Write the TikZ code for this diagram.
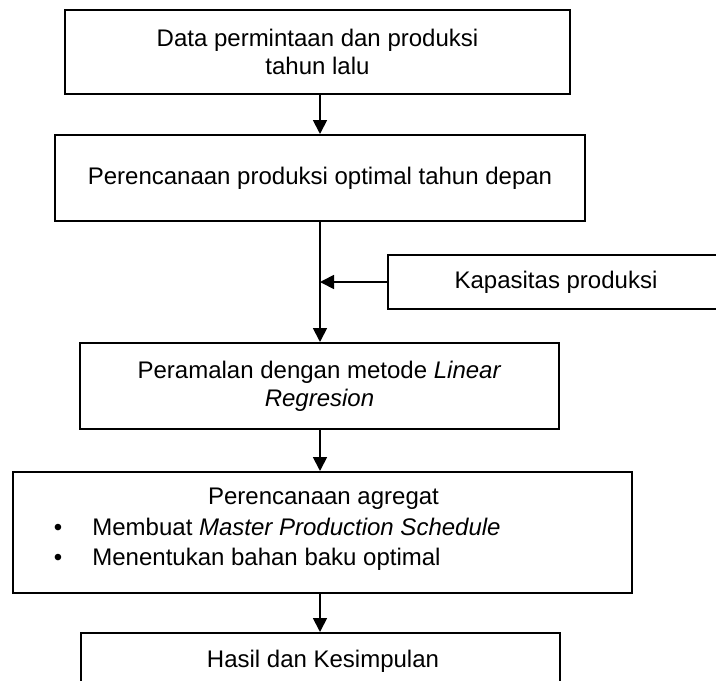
\documentclass[tikz,border=0pt]{standalone}
\usepackage{fontspec}
\setmainfont{Liberation Sans}
\usetikzlibrary{arrows.meta}
\begin{document}
\begin{tikzpicture}[x=0.5pt, y=-0.5pt,
  box/.style={draw=black, line width=1pt, fill=white, align=center, inner sep=0pt, font=\fontsize{12pt}{13.8pt}\selectfont},
  txt/.style={inner sep=0pt, font=\fontsize{12pt}{13.8pt}\selectfont},
  arr/.style={-{Triangle[length=7pt,width=7pt]}, line width=0.9pt}]
\useasboundingbox (0,0) rectangle (716,680);
\clip (0,0) rectangle (716,680);
\fill[white] (0,0) rectangle (716,680);

%main column of boxes
\node[box, minimum width=252.5pt, minimum height=42pt] (data) at (317.5,52) {Data permintaan dan produksi\\tahun lalu};
\node[box, minimum width=265pt, minimum height=43pt] (plan) at (320,178) {Perencanaan produksi optimal tahun depan};
\node[box, minimum width=239.5pt, minimum height=43pt] (forecast) at (319.5,386) {Peramalan dengan metode \textit{Linear}\\\textit{Regresion}};
\node[box, minimum width=309.5pt, minimum height=60.5pt] (aggregate) at (322.5,532.5) {};
\node[box, minimum width=239.5pt, minimum height=43pt] (result) at (320.5,676) {};

%side box
\node[box, minimum width=168pt, minimum height=27pt] (capacity) at (556,282) {Kapasitas produksi};

%texts inside aggregate and result
\node[txt, anchor=base] (aggtitle) at (323.5,504) {Perencanaan agregat};
\node[txt, anchor=base] (bulletA) at (58,535) {\textbullet};
\node[txt, anchor=base west] (itemA) at (92,535) {Membuat \textit{Master Production Schedule}};
\node[txt, anchor=base] (bulletB) at (58,565) {\textbullet};
\node[txt, anchor=base west] (itemB) at (92,565) {Menentukan bahan baku optimal};
\node[txt, anchor=base] (resulttext) at (323,667) {Hasil dan Kesimpulan};

%arrows
\coordinate (join) at (plan.south |- capacity.west);
\draw[arr] (plan.north |- data.south) -- (plan.north);
\draw[arr] (plan.south) -- (plan.south |- forecast.north);
\draw[arr] (capacity.west) -- (join);
\draw[arr] (plan.south |- forecast.south) -- (plan.south |- aggregate.north);
\draw[arr] (plan.south |- aggregate.south) -- (plan.south |- result.north);
\end{tikzpicture}
\end{document}
